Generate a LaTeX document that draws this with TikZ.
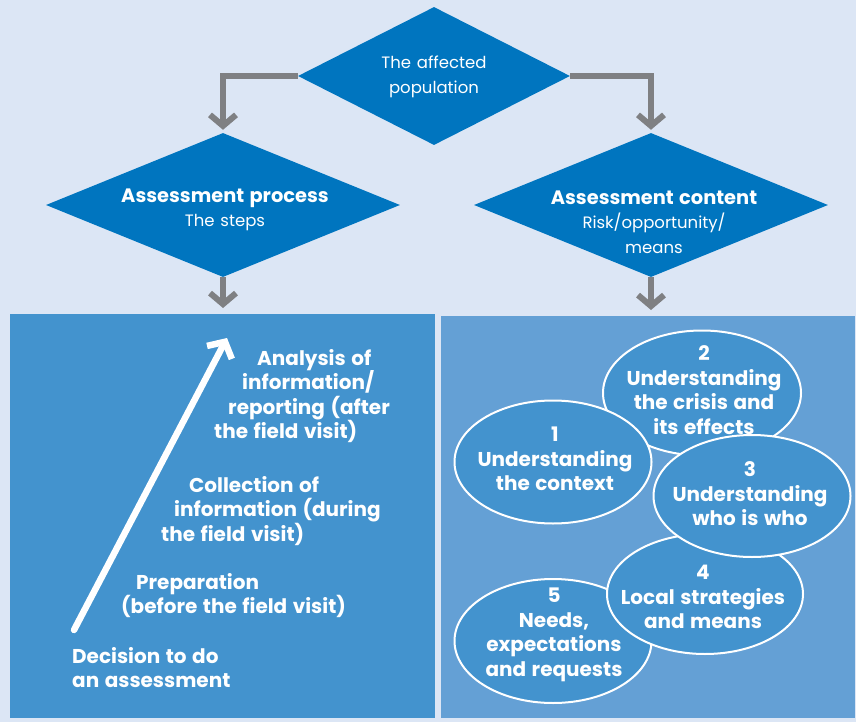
\documentclass[tikz,border=0pt]{standalone}
\usepackage{fontspec}
\setmainfont{Poppins}[WordSpace=1.3]
\usetikzlibrary{arrows.meta,shapes.geometric}
\definecolor{bgc}{HTML}{DCE6F5}
\definecolor{diac}{HTML}{0075BF}
\definecolor{grayc}{HTML}{7F8083}
\definecolor{lpc}{HTML}{4393CE}
\definecolor{rpc}{HTML}{64A0D5}
\definecolor{ellc}{HTML}{4393CE}
\tikzset{
  dia/.style={diamond, fill=diac, draw=none, inner sep=0pt},
  wtxt/.style={text=white, align=center, inner sep=0pt, font=\fontsize{16.5}{24.5}\selectfont},
  btxt/.style={text=white, inner sep=0pt, font=\fontsize{20}{24.5}\selectfont\bfseries},
  garrow/.style={draw=grayc, line width=6pt, -{Straight Barb[sharp,length=11pt,width=26pt]}},
  warrow/.style={draw=white, line width=6.5pt, line cap=round, -{Straight Barb[sharp,length=12pt,width=28pt]}},
  panel/.style={draw=none, inner sep=0pt, anchor=north west},
  ell/.style={ellipse, draw=white, line width=2pt, fill=ellc, inner sep=0pt},
}
\begin{document}
\begin{tikzpicture}[x=1pt,y=-1pt]
\fill[bgc] (0,0) rectangle (856,722);
\useasboundingbox (0,0) rectangle (856,722);

% diamonds
\node[dia, minimum width=272pt, minimum height=138pt] (top) at (434,76) {};
\node[dia, minimum width=354pt, minimum height=144pt] (ldia) at (223,205) {};
\node[dia, minimum width=354pt, minimum height=144pt] (rdia) at (651,205) {};
\node[wtxt] (toptxt) at (434,77) {The affected\\population};
\node[wtxt] (ltxt) at (225,210) {{\bfseries\fontsize{19.4}{24.5}\selectfont Assessment process}\\The steps};
\node[wtxt] (rtxt) at (654,222) {{\bfseries\fontsize{19.4}{24.5}\selectfont Assessment content}\\Risk/opportunity/\\means};

% panels
\node[panel, fill=lpc, minimum width=425pt, minimum height=404pt] (lpanel) at (10,314) {};
\node[panel, fill=rpc, minimum width=414pt, minimum height=402pt] (rpanel) at (441,316) {};

% gray connectors
\draw[garrow, shorten >=3pt] (top.west) -| (ldia.north);
\draw[garrow, shorten >=3pt] (top.east) -| (rdia.north);
\draw[garrow, shorten >=6pt] (ldia.south) -- (ldia.south |- lpanel.north);
\draw[garrow, shorten >=6pt] (rdia.south) -- (rdia.south |- rpanel.north);

% left panel: steps
\coordinate (astart) at (74,630);
\coordinate (aend) at (227,338);
\draw[warrow] (astart) -- (aend);
\node[btxt, align=left, anchor=north west] (s4) at (214,349)
  {\hspace*{43pt}Analysis of\\\hspace*{28pt}information/\\\hspace*{14pt}reporting (after\\the field visit)};
\node[btxt, align=left, anchor=north west] (s3) at (161,476)
  {\hspace*{28pt}Collection of\\\hspace*{13pt}information (during\\the field visit)};
\node[btxt, align=left, anchor=north west] (s2) at (121,573)
  {\hspace*{15pt}Preparation\\(before the field visit)};
\node[btxt, align=left, anchor=north west] (s1) at (72,647)
  {Decision to do\\an assessment};

% right panel: ellipses
\node[ell, minimum width=198pt, minimum height=125pt] (e2) at (702,393) {};
\node[ell, minimum width=197pt, minimum height=123pt] (e1) at (553,462) {};
\node[ell, minimum width=197pt, minimum height=124pt] (e5) at (553,641) {};
\node[ell, minimum width=196pt, minimum height=120pt] (e4) at (705,594) {};
\node[ell, minimum width=197pt, minimum height=122pt] (e3) at (752,496) {};
\node[btxt, align=center] (t2) at (704,390) {2\\Understanding\\the crisis and\\its effects};
\node[btxt, align=center] (t1) at (555,459) {1\\Understanding\\the context};
\node[btxt, align=center] (t3) at (750,494) {3\\Understanding\\who is who};
\node[btxt, align=center] (t4) at (703,597) {4\\Local strategies\\and means};
\node[btxt, align=center] (t5) at (554,635) {5\\Needs,\\expectations\\and requests};
\end{tikzpicture}
\end{document}
